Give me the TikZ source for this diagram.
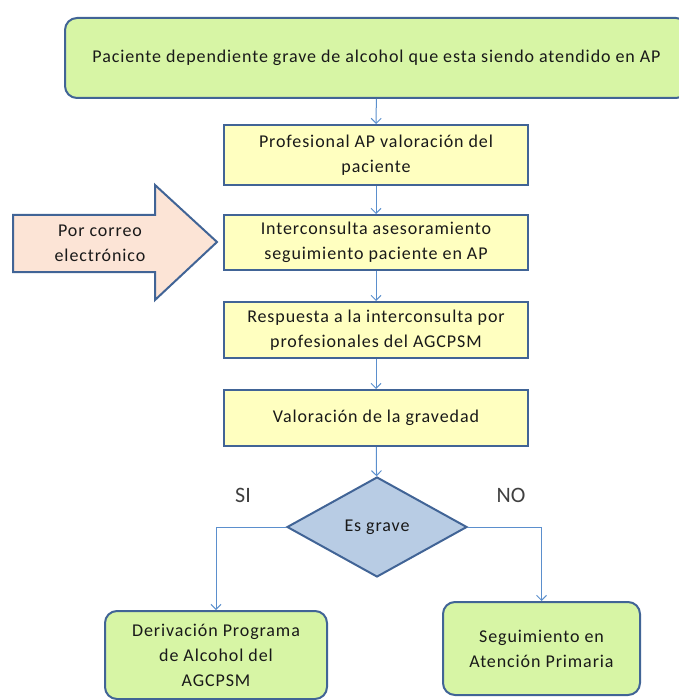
\documentclass[tikz,border=0pt]{standalone}
\usepackage{fontspec}
\setmainfont{Carlito}[LetterSpace=5]
\newfontfamily\labelfont{Carlito}
\usetikzlibrary{shapes.geometric, arrows.meta}
\definecolor{edgeblue}{RGB}{65,100,150}
\definecolor{linkblue}{RGB}{91,143,205}
\definecolor{greenfill}{RGB}{215,245,165}
\definecolor{yellowfill}{RGB}{255,255,192}
\definecolor{diamfill}{RGB}{184,204,228}
\definecolor{peachfill}{RGB}{252,228,214}
\tikzset{
    every node/.style={font=\fontsize{18}{25}\selectfont, align=center,
        text=black!90},
    greenbox/.style={draw=edgeblue, line width=2pt, fill=greenfill,
        rounded corners=12pt},
    yellowbox/.style={draw=edgeblue, line width=2pt, fill=yellowfill,
        minimum width=304pt},
    conn/.style={draw=linkblue, line width=1pt,
        -{Straight Barb[length=5pt, width=10pt]}},
}

\begin{document}
\begin{tikzpicture}[x=1pt, y=-1pt]
    \useasboundingbox (0, 0) rectangle (678, 700);

    \node[greenbox, minimum width=623pt, minimum height=80pt] (patient)
        at (376.5, 58) {Paciente dependiente grave de alcohol que esta siendo
        atendido en AP};

    \node[yellowbox, minimum height=60pt] (valora) at (376, 155)
        {Profesional AP valoración del\\paciente};
    \node[yellowbox, minimum height=55pt] (interc) at (376, 242.5)
        {Interconsulta asesoramiento\\seguimiento paciente en AP};
    \node[yellowbox, minimum height=56pt] (resp) at (376, 330)
        {Respuesta a la interconsulta por\\profesionales del AGCPSM};
    \node[yellowbox, minimum height=56pt] (grav) at (376, 418)
        {Valoración de la gravedad};

    \node[diamond, draw=edgeblue, line width=2pt, fill=diamfill,
        minimum width=180pt, minimum height=100pt, aspect=1.8, inner sep=0pt]
        (grave) at (377, 527) {Es grave};

    \node[greenbox, minimum width=222pt, minimum height=88pt] (deriv)
        at (216, 655) {Derivación Programa\\de Alcohol del\\AGCPSM};
    \node[greenbox, minimum width=197pt, minimum height=93pt] (seguim)
        at (541.5, 648.5) {Seguimiento en\\Atención Primaria};

    % Mail arrow
    \draw[draw=edgeblue, line width=2pt, fill=peachfill, line join=miter]
        (13, 215) -- (155, 215) -- (155, 185) -- (217, 242) -- (155, 300)
        -- (155, 272) -- (13, 272) -- cycle;
    \node (mail) at (100, 243) {Por correo\\electrónico};

    \node[font=\labelfont\fontsize{22}{24}\selectfont, text=black!75] (si)
        at (243, 495) {SI};
    \node[font=\labelfont\fontsize{22}{24}\selectfont, text=black!75] (no)
        at (511, 495) {NO};

    \draw[conn] (patient) -- (valora);
    \draw[conn] (valora) -- (interc);
    \draw[conn] (interc) -- (resp);
    \draw[conn] (resp) -- (grav);
    \draw[conn] (grav) -- (grave);
    \draw[conn] (grave.west) -| (deriv.north);
    \draw[conn] (grave.east) -| (seguim.north);
\end{tikzpicture}
\end{document}
